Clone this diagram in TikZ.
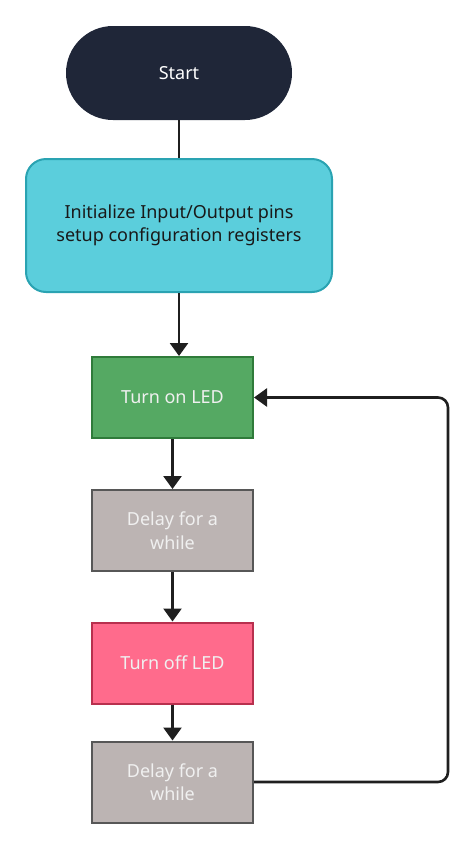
\documentclass[tikz,border=0pt]{standalone}
\usepackage{fontspec}
\setmainfont{Noto Sans}
\usetikzlibrary{arrows.meta}
\definecolor{navy}{HTML}{1F2638}
\definecolor{cyanfill}{HTML}{5BCEDC}
\definecolor{cyanedge}{HTML}{2AA3B2}
\definecolor{greenfill}{HTML}{55A963}
\definecolor{greenedge}{HTML}{2F7B3A}
\definecolor{greyfill}{HTML}{BCB4B3}
\definecolor{greyedge}{HTML}{575757}
\definecolor{pinkfill}{HTML}{FF6B8C}
\definecolor{pinkedge}{HTML}{B8304E}
\begin{document}
\begin{tikzpicture}[x=1pt,y=-1pt, font=\fontsize{18}{23.5}\selectfont,
  stepbox/.style={draw, line width=2pt, minimum width=161pt, minimum height=81pt, inner sep=2pt, align=center, text=white!94!black},
  flow/.style={line width=2.6pt, draw=black!88, -{Triangle[length=13pt,width=18pt]}}]
\useasboundingbox (0,0) rectangle (474,849);
\node[fill=navy, text=white, minimum width=226pt, minimum height=94pt, rounded corners=47pt] (start) at (179,73) {Start};
\node[fill=cyanfill, draw=cyanedge, line width=2pt, text=black!90, minimum width=306pt, minimum height=133pt, rounded corners=20pt, align=center] (init) at (179,225.5) {Initialize Input/Output pins\\setup configuration registers};
\node[stepbox, fill=greenfill, draw=greenedge] (on) at (172.5,397.5) {Turn on LED};
\node[stepbox, fill=greyfill, draw=greyedge] (wait1) at (172.5,530.5) {Delay for a\\while};
\node[stepbox, fill=pinkfill, draw=pinkedge] (off) at (172.5,663) {Turn off LED};
\node[stepbox, fill=greyfill, draw=greyedge] (wait2) at (172.5,782) {Delay for a\\while};
\coordinate (loop) at (448,0);
\draw[line width=2.6pt, draw=black!88] (start) -- (init);
\draw[flow] (init) -- (init |- on.north);
\foreach \a/\b in {on/wait1, wait1/off, off/wait2} \draw[flow] (\a) -- (\b);
\draw[flow, rounded corners=10pt] (wait2.east) -| (loop |- on.east) -- (on.east);
\end{tikzpicture}
\end{document}
